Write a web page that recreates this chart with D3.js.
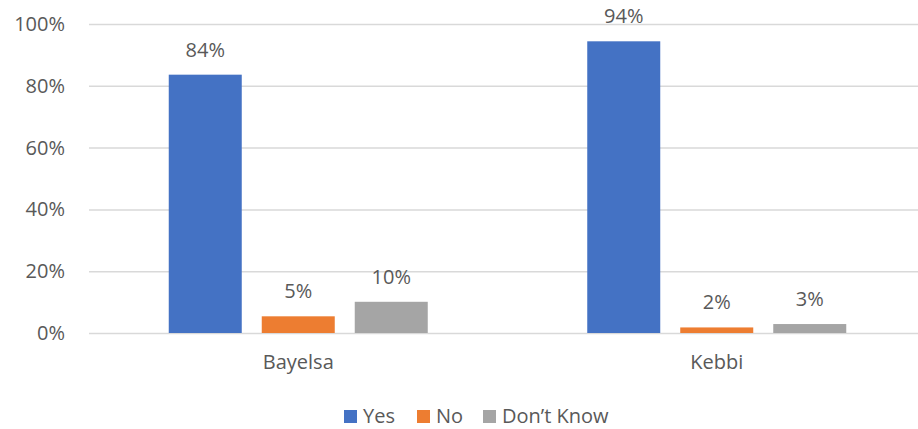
<!DOCTYPE html>
<html>
<head>
<meta charset="utf-8">
<script src="https://cdnjs.cloudflare.com/ajax/libs/d3/7.8.5/d3.min.js"></script>
<style>
  html, body { margin: 0; padding: 0; background: #fff; }
  svg { display: block; }
  text { font-family: "Open Sans", Lato, sans-serif; fill: #595959; }
</style>
</head>
<body>
<div id="chart"></div>
<script>
// Survey responses by state (share of respondents, %)
const categories = ["Bayelsa", "Kebbi"];
const seriesNames = ["Yes", "No", "Don\u2019t Know"];
const yesValues = [83.6, 94.4];
const noValues = [5.4, 1.8];
const dontKnowValues = [10.1, 2.9];
const yTicks = [0, 20, 40, 60, 80, 100];
const colors = ["#4472C4", "#ED7D31", "#A5A5A5"];

const seriesValues = [yesValues, noValues, dontKnowValues];

const width = 918, height = 429;
const margin = { top: 24, right: -8, bottom: 96, left: 89 };
const plotW = width - margin.left - margin.right;
const plotH = height - margin.top - margin.bottom;
const fontSize = "20px";

const svg = d3.select("#chart").append("svg")
  .attr("width", width).attr("height", height);

const g = svg.append("g").attr("transform", `translate(${margin.left},${margin.top})`);

const x0 = d3.scaleBand().domain(categories).range([0, plotW]).paddingInner(0).paddingOuter(0);
const groupW = 259;
const x1 = d3.scaleBand().domain(seriesNames)
  .range([(x0.bandwidth() - groupW) / 2, (x0.bandwidth() + groupW) / 2])
  .paddingInner(20 / 93).paddingOuter(0);
const y = d3.scaleLinear().domain([0, 100]).range([plotH, 0]);

// Horizontal gridlines and percentage tick labels
const yAxis = d3.axisLeft(y).tickValues(yTicks).tickSize(-plotW).tickFormat(d => d + "%").tickPadding(24);
const yG = g.append("g").call(yAxis);
yG.select(".domain").remove();
yG.selectAll(".tick line").attr("stroke", "#D9D9D9").attr("stroke-width", 1.5);
yG.selectAll(".tick text").style("font-size", fontSize).attr("fill", "#595959");

// Category labels
const xAxis = d3.axisBottom(x0).tickSize(0).tickPadding(22);
const xG = g.append("g").attr("transform", `translate(0,${plotH})`).call(xAxis);
xG.select(".domain").remove();
xG.selectAll(".tick text").style("font-size", fontSize).attr("fill", "#595959");

// Bars with value labels
const rows = categories.map((c, i) => ({
  cat: c,
  vals: seriesNames.map((s, j) => ({ name: s, value: seriesValues[j][i], color: colors[j] }))
}));

const groups = g.selectAll(".grp").data(rows).join("g")
  .attr("class", "grp")
  .attr("transform", d => `translate(${x0(d.cat)},0)`);

groups.selectAll("rect").data(d => d.vals).join("rect")
  .attr("x", d => x1(d.name))
  .attr("width", x1.bandwidth())
  .attr("y", d => y(d.value))
  .attr("height", d => y(0) - y(d.value))
  .attr("fill", d => d.color);

groups.selectAll("text.val").data(d => d.vals).join("text")
  .attr("class", "val")
  .attr("x", d => x1(d.name) + x1.bandwidth() / 2)
  .attr("y", d => y(d.value) - 18)
  .attr("text-anchor", "middle")
  .style("font-size", fontSize)
  .text(d => d3.format(".0f")(d.value) + "%");

// Legend
const legendItems = [
  { name: seriesNames[0], color: colors[0], x: 344 },
  { name: seriesNames[1], color: colors[1], x: 417 },
  { name: seriesNames[2], color: colors[2], x: 483 }
];
const lg = svg.append("g");
const li = lg.selectAll("g").data(legendItems).join("g")
  .attr("transform", d => `translate(${d.x},410)`);
li.append("rect").attr("width", 13).attr("height", 13).attr("fill", d => d.color);
li.append("text").attr("x", 19).attr("y", 13).style("font-size", fontSize).text(d => d.name);
</script>
</body>
</html>
